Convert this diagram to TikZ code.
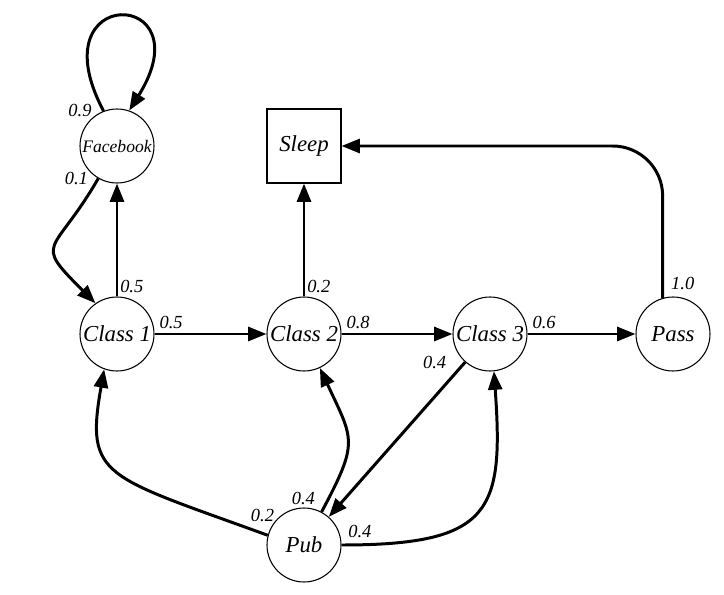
\documentclass[tikz,border=0pt]{standalone}
\usepackage{fontspec}
\setmainfont{Liberation Serif}
\usepackage{tikz}
\usetikzlibrary{arrows.meta,shapes.geometric}

\begin{document}
\begin{tikzpicture}[
  state/.style={draw, circle, line width=0.6pt, minimum size=1.48cm, inner sep=0pt, font=\fontsize{13}{15}\selectfont\itshape},
  sink/.style={draw, rectangle, line width=0.6pt, minimum size=1.48cm, inner sep=0pt, font=\fontsize{13}{15}\selectfont\itshape},
  arr/.style={-{Triangle[length=10.5pt,width=8pt]}, line width=1.7pt},
  lbl/.style={font=\fontsize{10.5}{12}\selectfont\itshape, inner sep=1pt}
]
\useasboundingbox (0,0) rectangle (14.48,11.88);

% States
\node[state, font=\fontsize{10}{12}\selectfont\itshape] (fb) at (2.34,8.96) {Facebook};
\node[sink] (sleep) at (6.08,8.96) {Sleep};
\node[state] (c1) at (2.34,5.2) {Class 1};
\node[state] (c2) at (6.08,5.2) {Class 2};
\node[state] (c3) at (9.8,5.2) {Class 3};
\node[state] (pass) at (13.46,5.2) {Pass};
\node[state] (pub) at (6.08,0.98) {Pub};

% Facebook
\draw[arr] (fb.111) .. controls +(118:2.9) and +(58:2.9) .. node[lbl, pos=0, left=5pt] {0.9} (fb.71);
\draw[arr] (fb.-120) .. controls +(240:1.8) and +(135:1.8) .. node[lbl, pos=0, left=4pt] {0.1} (c1.125);
\draw[arr] (c1) -- node[lbl, pos=0, above right] {0.5} (fb);

% Classes
\draw[arr] (c1) -- node[lbl, pos=0, above right=1pt] {0.5} (c2);
\draw[arr] (c2) -- node[lbl, pos=0, above right=1pt] {0.8} (c3);
\draw[arr] (c3) -- node[lbl, pos=0, above right=1pt] {0.6} (pass);
\draw[arr] (c2) -- node[lbl, pos=0, above right] {0.2} (sleep);
\draw[arr] (c3) -- node[lbl, pos=0, left=9pt] {0.4} (pub);

% Pass
\draw[arr, rounded corners=1cm] (pass.106) |- node[lbl, pos=0, above right=3pt] {1.0} (sleep.east);

% Pub
\draw[arr] (pub.165) .. controls +(160:3.5) and +(-100:2.2) .. node[lbl, pos=0, above=6pt, xshift=-3pt] {0.2} (c1.-110);
\draw[arr] (pub.62) .. controls +(62:1.6) and +(-65:1.6) .. node[lbl, pos=0, above left=2pt] {0.4} (c2.-65);
\draw[arr] (pub.east) .. controls +(3,0) and +(0.2,-2.8) .. node[lbl, pos=0, above right=2pt] {0.4} (c3.-84);

\end{tikzpicture}
\end{document}
